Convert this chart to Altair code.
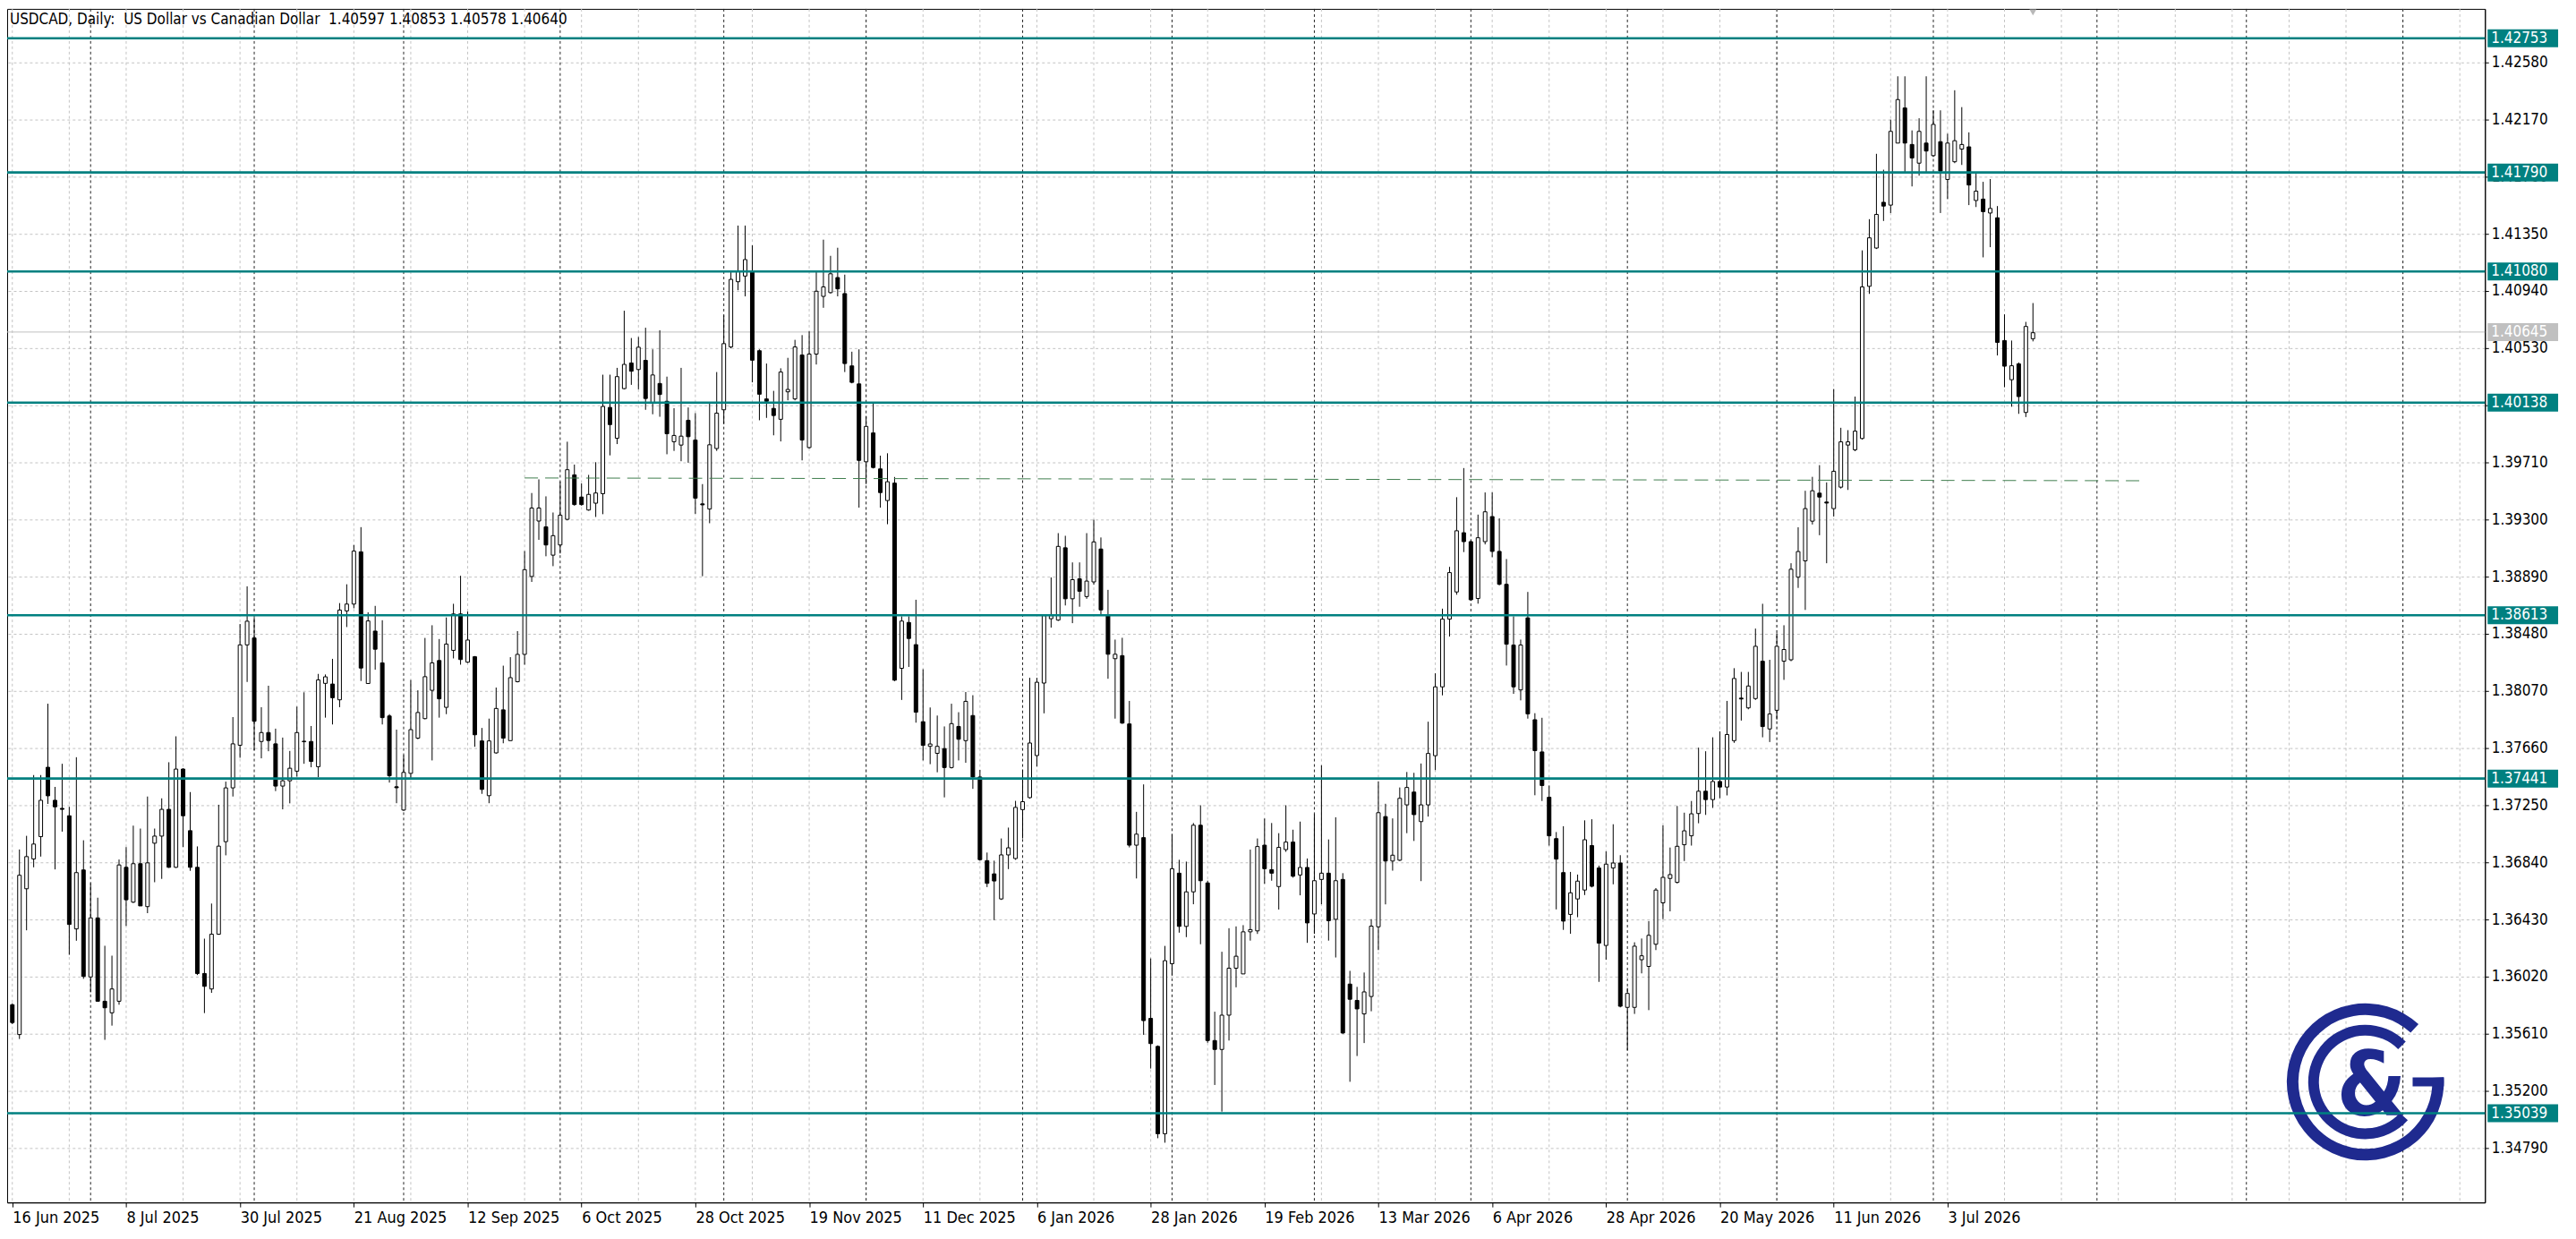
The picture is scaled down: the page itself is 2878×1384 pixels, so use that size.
import json
import altair as alt
import pandas as pd

TITLE = "USDCAD, Daily:\u00a0 US Dollar vs Canadian Dollar\u00a0 1.40597 1.40853 1.40578 1.40640"

OPEN = [
    1.35818, 1.35604, 1.36650, 1.36864, 1.37024, 1.37522, 1.37285, 1.37227, 1.37174, 1.36362,
    1.36785, 1.36017, 1.36441, 1.35843, 1.35760, 1.35843, 1.36804, 1.36554, 1.36830, 1.36522,
    1.36977, 1.37028, 1.37220, 1.36804, 1.37509, 1.37067, 1.36804, 1.36042, 1.35931, 1.36324,
    1.36988, 1.37374, 1.37680, 1.38400, 1.38450, 1.37707, 1.37771, 1.37690, 1.37387, 1.37425,
    1.37494, 1.37705, 1.37707, 1.37526, 1.38124, 1.38119, 1.38006, 1.38644, 1.38693, 1.39068,
    1.38123, 1.38499, 1.38271, 1.37890, 1.37382, 1.37215, 1.37478, 1.37731, 1.37871, 1.38074,
    1.38288, 1.37952, 1.38361, 1.38622, 1.38276, 1.38315, 1.37711, 1.37318, 1.37625, 1.37934,
    1.37713, 1.38136, 1.38332, 1.38891, 1.39289, 1.39247, 1.39044, 1.39117, 1.39301, 1.39620,
    1.39461, 1.39368, 1.39417, 1.39485, 1.40104, 1.39883, 1.40239, 1.40423, 1.40376, 1.40442,
    1.40136, 1.40276, 1.40148, 1.39858, 1.39834, 1.40012, 1.39870, 1.39412, 1.39375, 1.39809,
    1.40087, 1.40538, 1.41006, 1.41047, 1.41080, 1.40511, 1.40165, 1.40097, 1.40019, 1.40216,
    1.40165, 1.40480, 1.39816, 1.40487, 1.40901, 1.40928, 1.41036, 1.40921, 1.40402, 1.40273,
    1.39714, 1.39921, 1.39663, 1.39436, 1.39561, 1.38232, 1.38561, 1.38402, 1.37849, 1.37672,
    1.37622, 1.37656, 1.37520, 1.37815, 1.37713, 1.37893, 1.37452, 1.36852, 1.36757, 1.36577,
    1.36893, 1.36867, 1.37218, 1.37304, 1.37606, 1.38126, 1.38588, 1.38578, 1.39097, 1.38731,
    1.38874, 1.38747, 1.38852, 1.39088, 1.38610, 1.38301, 1.38323, 1.37833, 1.36963, 1.37017,
    1.35720, 1.35519, 1.34892, 1.36112, 1.36762, 1.36380, 1.36628, 1.37106, 1.36692, 1.35561,
    1.35497, 1.35743, 1.36080, 1.36039, 1.36341, 1.36348, 1.36963, 1.36787, 1.36666, 1.36931,
    1.36985, 1.36749, 1.36803, 1.36469, 1.36717, 1.36762, 1.36431, 1.36717, 1.35966, 1.35849,
    1.35752, 1.35877, 1.36377, 1.37168, 1.36849, 1.36855, 1.37252, 1.37344, 1.37132, 1.37252,
    1.37605, 1.38099, 1.38585, 1.38780, 1.39205, 1.39141, 1.38733, 1.39141, 1.39321, 1.39071,
    1.38835, 1.38399, 1.38077, 1.38594, 1.37863, 1.37632, 1.37307, 1.37010, 1.36766, 1.36466,
    1.36577, 1.36641, 1.36960, 1.36799, 1.36243, 1.36799, 1.36835, 1.35799, 1.35799, 1.36141,
    1.36093, 1.36252, 1.36549, 1.36724, 1.36696, 1.36966, 1.37030, 1.37190, 1.37350, 1.37290,
    1.37420, 1.37380, 1.37713, 1.38018, 1.37948, 1.38015, 1.38283, 1.37797, 1.37931, 1.38283,
    1.38293, 1.38886, 1.39003, 1.39288, 1.39489, 1.39425, 1.39378, 1.39532, 1.39834, 1.39800,
    1.39881, 1.40973, 1.41248, 1.41576, 1.41556, 1.42001, 1.42253, 1.41991, 1.41857, 1.42001,
    1.41911, 1.42011, 1.41740, 1.41867, 1.41958, 1.41974, 1.41589, 1.41599, 1.41499, 1.41465,
    1.40584, 1.40303, 1.40417, 1.40068, 1.40597,
]

HIGH = [
    1.35828, 1.36932, 1.37030, 1.37466, 1.37466, 1.37978, 1.37381, 1.37547, 1.37238, 1.37594,
    1.36998, 1.36689, 1.36586, 1.36241, 1.36170, 1.36860, 1.36949, 1.37103, 1.37082, 1.37312,
    1.37082, 1.37299, 1.37558, 1.37744, 1.37515, 1.37344, 1.36954, 1.36292, 1.36544, 1.37253,
    1.37419, 1.37882, 1.38550, 1.38820, 1.38600, 1.37953, 1.38107, 1.37799, 1.37735, 1.37639,
    1.37957, 1.38060, 1.37818, 1.38192, 1.38188, 1.38300, 1.38700, 1.38835, 1.39117, 1.39245,
    1.38634, 1.38680, 1.38577, 1.37903, 1.37792, 1.37608, 1.38148, 1.38074, 1.38450, 1.38541,
    1.38442, 1.38597, 1.38695, 1.38896, 1.38639, 1.38320, 1.37804, 1.37871, 1.38094, 1.38251,
    1.38312, 1.38499, 1.39073, 1.39490, 1.39588, 1.39466, 1.39350, 1.39571, 1.39858, 1.39694,
    1.39559, 1.39620, 1.39711, 1.40339, 1.40339, 1.40388, 1.40798, 1.40602, 1.40609, 1.40676,
    1.40521, 1.40658, 1.40325, 1.40099, 1.40388, 1.40104, 1.40063, 1.39554, 1.40131, 1.40358,
    1.40765, 1.41080, 1.41409, 1.41409, 1.41267, 1.40521, 1.40419, 1.40223, 1.40385, 1.40460,
    1.40589, 1.40623, 1.40650, 1.41080, 1.41308, 1.41192, 1.41250, 1.41057, 1.40504, 1.40521,
    1.40039, 1.40131, 1.39758, 1.39775, 1.39605, 1.38605, 1.38605, 1.38724, 1.38225, 1.37951,
    1.37893, 1.37815, 1.37978, 1.37917, 1.38062, 1.38039, 1.37503, 1.36910, 1.36852, 1.37011,
    1.37089, 1.37281, 1.37504, 1.38164, 1.38164, 1.38619, 1.38884, 1.39202, 1.39183, 1.38992,
    1.38992, 1.39202, 1.39298, 1.39171, 1.38795, 1.38438, 1.38451, 1.37998, 1.37202, 1.37399,
    1.36150, 1.35526, 1.36240, 1.37042, 1.36858, 1.36845, 1.37122, 1.37249, 1.36708, 1.35768,
    1.36198, 1.36367, 1.36380, 1.36389, 1.36931, 1.37011, 1.37154, 1.37122, 1.37049, 1.37249,
    1.37074, 1.37132, 1.36867, 1.37186, 1.37536, 1.37004, 1.37163, 1.36762, 1.36061, 1.35946,
    1.36049, 1.36432, 1.37419, 1.37260, 1.37155, 1.37377, 1.37488, 1.37482, 1.37549, 1.37849,
    1.38196, 1.38660, 1.38960, 1.39460, 1.39669, 1.39149, 1.39335, 1.39494, 1.39494, 1.39308,
    1.39016, 1.38605, 1.38438, 1.38780, 1.37910, 1.37877, 1.37391, 1.37057, 1.37099, 1.36771,
    1.36752, 1.37141, 1.37149, 1.36816, 1.36918, 1.37113, 1.36891, 1.35938, 1.36266, 1.36293,
    1.36418, 1.36655, 1.37105, 1.36946, 1.37244, 1.37196, 1.37280, 1.37663, 1.37637, 1.37737,
    1.37780, 1.37998, 1.38233, 1.38206, 1.38206, 1.38517, 1.38695, 1.38293, 1.38484, 1.38541,
    1.38986, 1.39244, 1.39506, 1.39606, 1.39690, 1.39566, 1.40236, 1.39958, 1.39941, 1.40182,
    1.41231, 1.41455, 1.41924, 1.41810, 1.42169, 1.42480, 1.42480, 1.42092, 1.42179, 1.42480,
    1.42236, 1.42236, 1.42068, 1.42380, 1.42259, 1.42078, 1.41790, 1.41723, 1.41743, 1.41549,
    1.40772, 1.40584, 1.40427, 1.40718, 1.40853,
]

LOW = [
    1.35679, 1.35572, 1.36352, 1.36804, 1.36881, 1.37259, 1.36789, 1.37060, 1.36176, 1.36277,
    1.36004, 1.35907, 1.35839, 1.35566, 1.35668, 1.35818, 1.36384, 1.36548, 1.36527, 1.36475,
    1.36697, 1.36721, 1.36800, 1.36800, 1.36949, 1.36779, 1.36031, 1.35758, 1.35903, 1.36320,
    1.36890, 1.37312, 1.37590, 1.38134, 1.37643, 1.37586, 1.37637, 1.37351, 1.37220, 1.37263,
    1.37455, 1.37547, 1.37522, 1.37451, 1.37878, 1.37829, 1.37953, 1.38528, 1.38663, 1.38141,
    1.38123, 1.38222, 1.37829, 1.37412, 1.37264, 1.37208, 1.37436, 1.37723, 1.37866, 1.37571,
    1.37878, 1.37903, 1.38303, 1.38258, 1.38271, 1.37669, 1.37331, 1.37264, 1.37620, 1.37694,
    1.37713, 1.38131, 1.38258, 1.38852, 1.39154, 1.39036, 1.38965, 1.39056, 1.39294, 1.39399,
    1.39399, 1.39363, 1.39318, 1.39338, 1.39760, 1.39841, 1.40234, 1.40266, 1.40234, 1.40087,
    1.40055, 1.40037, 1.39768, 1.39792, 1.39718, 1.39707, 1.39341, 1.38893, 1.39273, 1.39792,
    1.39985, 1.40528, 1.40945, 1.40901, 1.40284, 1.40012, 1.40029, 1.39904, 1.39860, 1.40155,
    1.40155, 1.39724, 1.39809, 1.40412, 1.40819, 1.40921, 1.40901, 1.40358, 1.40277, 1.39385,
    1.39554, 1.39666, 1.39385, 1.39266, 1.38140, 1.38005, 1.38242, 1.37842, 1.37571, 1.37544,
    1.37486, 1.37306, 1.37513, 1.37571, 1.37554, 1.37367, 1.36852, 1.36662, 1.36425, 1.36570,
    1.36791, 1.36858, 1.37011, 1.37297, 1.37527, 1.37909, 1.38524, 1.38572, 1.38683, 1.38556,
    1.38674, 1.38731, 1.38833, 1.38619, 1.38157, 1.37871, 1.37833, 1.36947, 1.36724, 1.35602,
    1.35360, 1.34860, 1.34828, 1.36029, 1.36335, 1.36303, 1.36539, 1.36252, 1.35545, 1.35242,
    1.35051, 1.35561, 1.35943, 1.36039, 1.36278, 1.36326, 1.36686, 1.36708, 1.36501, 1.36915,
    1.36730, 1.36603, 1.36262, 1.36326, 1.36539, 1.36278, 1.36157, 1.35609, 1.35265, 1.35450,
    1.35543, 1.35771, 1.36210, 1.36538, 1.36780, 1.36849, 1.37049, 1.36993, 1.36705, 1.37168,
    1.37502, 1.38038, 1.38460, 1.38760, 1.39066, 1.38716, 1.38696, 1.39121, 1.39030, 1.38827,
    1.38252, 1.38049, 1.38002, 1.37871, 1.37321, 1.37280, 1.36960, 1.36502, 1.36355, 1.36327,
    1.36446, 1.36605, 1.36660, 1.35982, 1.36141, 1.36682, 1.35799, 1.35490, 1.35752, 1.36043,
    1.35779, 1.36210, 1.36432, 1.36488, 1.36688, 1.36849, 1.36960, 1.37120, 1.37180, 1.37230,
    1.37300, 1.37320, 1.37697, 1.37857, 1.37938, 1.38005, 1.37737, 1.37703, 1.37864, 1.38149,
    1.38283, 1.38809, 1.38651, 1.39264, 1.39187, 1.38986, 1.39321, 1.39522, 1.39512, 1.39790,
    1.39874, 1.40919, 1.41241, 1.41442, 1.41499, 1.42001, 1.41784, 1.41690, 1.41767, 1.41790,
    1.41901, 1.41499, 1.41599, 1.41857, 1.41844, 1.41556, 1.41542, 1.41181, 1.41254, 1.40477,
    1.40249, 1.40109, 1.40058, 1.40035, 1.40578,
]

CLOSE = [
    1.35690, 1.36747, 1.36881, 1.36971, 1.37285, 1.37317, 1.37238, 1.37220, 1.36394, 1.36766,
    1.36021, 1.36441, 1.35843, 1.35796, 1.35931, 1.36821, 1.36571, 1.36830, 1.36527, 1.36836,
    1.37028, 1.37220, 1.36804, 1.37509, 1.37174, 1.36804, 1.36042, 1.35950, 1.36324, 1.36956,
    1.37374, 1.37690, 1.38400, 1.38570, 1.37852, 1.37771, 1.37714, 1.37387, 1.37425, 1.37515,
    1.37771, 1.37709, 1.37564, 1.38149, 1.38171, 1.38021, 1.38650, 1.38693, 1.39073, 1.38234,
    1.38572, 1.38369, 1.37878, 1.37461, 1.37375, 1.37485, 1.37792, 1.37915, 1.38172, 1.38271,
    1.38013, 1.38406, 1.38622, 1.38295, 1.38435, 1.37755, 1.37363, 1.37711, 1.37944, 1.37731,
    1.38165, 1.38332, 1.38940, 1.39382, 1.39382, 1.39117, 1.39184, 1.39331, 1.39657, 1.39407,
    1.39407, 1.39480, 1.39490, 1.40111, 1.39981, 1.40325, 1.40413, 1.40364, 1.40536, 1.40168,
    1.40337, 1.40197, 1.39915, 1.39903, 1.39898, 1.39894, 1.39453, 1.39405, 1.39836, 1.40063,
    1.40562, 1.41023, 1.41080, 1.41165, 1.40443, 1.40199, 1.40148, 1.40046, 1.40358, 1.40233,
    1.40538, 1.39870, 1.40487, 1.40938, 1.40969, 1.41063, 1.40955, 1.40419, 1.40284, 1.39724,
    1.39968, 1.39673, 1.39493, 1.39571, 1.38147, 1.38571, 1.38446, 1.37917, 1.37679, 1.37689,
    1.37672, 1.37520, 1.37835, 1.37723, 1.37995, 1.37452, 1.36859, 1.36689, 1.36706, 1.36893,
    1.36944, 1.37234, 1.37275, 1.37696, 1.38132, 1.38610, 1.38610, 1.39107, 1.38731, 1.38868,
    1.38785, 1.38858, 1.39139, 1.38651, 1.38333, 1.38333, 1.37839, 1.36963, 1.37042, 1.35704,
    1.35539, 1.34892, 1.36134, 1.36794, 1.36380, 1.36628, 1.37106, 1.36708, 1.35561, 1.35497,
    1.35743, 1.36080, 1.36166, 1.36341, 1.36357, 1.36953, 1.36794, 1.36762, 1.36947, 1.36985,
    1.36740, 1.36803, 1.36405, 1.36708, 1.36762, 1.36421, 1.36708, 1.35615, 1.35857, 1.35788,
    1.35910, 1.36382, 1.37196, 1.36849, 1.36891, 1.37299, 1.37377, 1.37182, 1.37252, 1.37621,
    1.38099, 1.38585, 1.38919, 1.39219, 1.39141, 1.38724, 1.39169, 1.39355, 1.39071, 1.38835,
    1.38405, 1.38099, 1.38399, 1.37905, 1.37641, 1.37391, 1.37030, 1.36863, 1.36418, 1.36621,
    1.36705, 1.37002, 1.36668, 1.36260, 1.36827, 1.36835, 1.35807, 1.35899, 1.36238, 1.36169,
    1.36316, 1.36641, 1.36732, 1.36752, 1.36955, 1.37066, 1.37188, 1.37350, 1.37290, 1.37420,
    1.37380, 1.37757, 1.38159, 1.38012, 1.38105, 1.38390, 1.37814, 1.37904, 1.38390, 1.38367,
    1.38943, 1.39070, 1.39378, 1.39506, 1.39461, 1.39418, 1.39646, 1.39857, 1.39857, 1.39934,
    1.40969, 1.41321, 1.41489, 1.41549, 1.42085, 1.42313, 1.42001, 1.41894, 1.42085, 1.41944,
    1.42135, 1.41800, 1.42001, 1.42018, 1.41991, 1.41700, 1.41656, 1.41509, 1.41532, 1.40571,
    1.40400, 1.40403, 1.40182, 1.40685, 1.40640,
]

FIRST_BAR = "2025-06-16"
MARKET_HOLIDAYS = ["2025-12-25", "2026-01-01"]

DATE_LABELS = ["16 Jun 2025", "8 Jul 2025", "30 Jul 2025", "21 Aug 2025", "12 Sep 2025",
               "6 Oct 2025", "28 Oct 2025", "19 Nov 2025", "11 Dec 2025", "6 Jan 2026",
               "28 Jan 2026", "19 Feb 2026", "13 Mar 2026", "6 Apr 2026", "28 Apr 2026",
               "20 May 2026", "11 Jun 2026", "3 Jul 2026"]
LABEL_EVERY = 16
GRID_EVERY = 8

PRICE_TICKS = [1.34790, 1.35200, 1.35610, 1.36020, 1.36430, 1.36840, 1.37250, 1.37660,
               1.38070, 1.38480, 1.38890, 1.39300, 1.39710, 1.40120, 1.40530, 1.40940,
               1.41350, 1.41760, 1.42170, 1.42580]
LEVELS = [1.42753, 1.41790, 1.41080, 1.40138, 1.38613, 1.37441, 1.35039]
CURRENT_PRICE = 1.40645
TREND_IDX = [72, 299]
TREND_PRICE = [1.39598, 1.39578]

# ---------------------------------------------------------------- styling
FONT = "DejaVu Sans Condensed, Liberation Sans Narrow, DejaVu Sans"
TEAL = "#008080"
NAVY = "#1f2a8f"
GRID = "#c3c3c3"
W, H = 2776, 1337
X_DOMAIN = [-0.1, 346.9]
Y_DOMAIN = [1.34399, 1.42964]

xs = alt.Scale(domain=X_DOMAIN, nice=False, zero=False)
ys = alt.Scale(domain=Y_DOMAIN, nice=False, zero=False)

n = len(CLOSE)
bars = pd.DataFrame({"idx": list(range(n)), "o": OPEN, "h": HIGH, "l": LOW, "c": CLOSE})
bars["fill"] = ["white" if c >= o else "black" for o, c in zip(OPEN, CLOSE)]

days = pd.bdate_range(FIRST_BAR, periods=420)
days = days[~days.isin(pd.to_datetime(MARKET_HOLIDAYS))]
sep_idx = [i for i in range(1, len(days))
           if days[i].month != days[i - 1].month and i < X_DOMAIN[1]]
grid_idx = list(range(0, int(X_DOMAIN[1]) + 1, GRID_EVERY))

label_expr = f"{json.dumps(DATE_LABELS)}[round(datum.value / {LABEL_EVERY})]"
x_axis = alt.Axis(values=list(range(0, LABEL_EVERY * len(DATE_LABELS), LABEL_EVERY)),
                  labelExpr=label_expr, labelAlign="left", labelBaseline="top",
                  labelFont=FONT, labelFontSize=18, labelColor="black", labelPadding=3,
                  labelFlush=False, labelOverlap=False, tickSize=5, tickColor="black",
                  domainColor="black", grid=False, title=None)
y_axis = alt.Axis(orient="right", values=PRICE_TICKS, format=".5f", labelFont=FONT,
                  labelFontSize=17, labelColor="black", labelPadding=3, tickSize=4,
                  tickColor="black", domainColor="black", grid=True, gridColor=GRID,
                  gridDash=[3, 3], gridWidth=1, labelFlush=False, labelOverlap=False,
                  title=None)


def X(field):
    return alt.X(field, scale=xs, axis=x_axis, title=None)


def Y(field):
    return alt.Y(field, scale=ys, axis=y_axis, title=None)


grid_v = alt.Chart(pd.DataFrame({"idx": grid_idx})).mark_rule(
    color=GRID, strokeDash=[3, 3], strokeWidth=1
).encode(x=X("idx:Q"))

seps = alt.Chart(pd.DataFrame({"idx": sep_idx})).mark_rule(
    color="#222222", strokeDash=[3, 3], strokeWidth=1
).encode(x=X("idx:Q"))

logo_df = pd.DataFrame({"k": [0]})
LOGO_X, LOGO_Y = 2642, 1202
outer = alt.Chart(logo_df).mark_arc(
    radius=88, radius2=75, theta=1.5097, theta2=7.0267, color=NAVY
).encode(x=alt.value(LOGO_X), y=alt.value(LOGO_Y))
inner = alt.Chart(logo_df).mark_arc(
    radius=64, radius2=52, theta=2.3038, theta2=7.0686, color=NAVY
).encode(x=alt.value(LOGO_X), y=alt.value(LOGO_Y))
gbar = alt.Chart(logo_df).mark_rect(color=NAVY).encode(
    x=alt.value(LOGO_X + 53), x2=alt.value(LOGO_X + 88),
    y=alt.value(LOGO_Y - 5), y2=alt.value(LOGO_Y + 5))
amp = alt.Chart(logo_df).mark_text(
    text="&", font="DejaVu Sans Condensed, DejaVu Sans", fontWeight="bold", fontSize=100,
    color=NAVY, align="center", baseline="alphabetic"
).encode(x=alt.value(LOGO_X + 7), y=alt.value(LOGO_Y + 38))

cur_line = alt.Chart(pd.DataFrame({"price": [CURRENT_PRICE]})).mark_rule(
    color="#c0c0c0", strokeWidth=1
).encode(y=Y("price:Q"))

wick = alt.Chart(bars).mark_rule(color="black", strokeWidth=1).encode(
    x=X("idx:Q"), y=Y("l:Q"), y2="h:Q",
)
body = alt.Chart(bars).mark_bar(size=4, stroke="black", strokeWidth=1).encode(
    x=X("idx:Q"), y=Y("o:Q"), y2="c:Q",
    fill=alt.Fill("fill:N", scale=None),
)

levels = alt.Chart(pd.DataFrame({"price": LEVELS})).mark_rule(
    color=TEAL, strokeWidth=2.6
).encode(y=Y("price:Q"))

trend = alt.Chart(pd.DataFrame({"idx": TREND_IDX, "price": TREND_PRICE})).mark_line(
    color="#3f7d4d", strokeDash=[15, 8], strokeWidth=1
).encode(x=X("idx:Q"), y=Y("price:Q"))

box_df = pd.DataFrame({"price": LEVELS + [CURRENT_PRICE],
                       "bg": [TEAL] * len(LEVELS) + ["#c0c0c0"]})
boxes = alt.Chart(box_df).mark_rule(strokeWidth=20, strokeCap="butt").encode(
    x=alt.value(W + 3), x2=alt.value(W + 82),
    y=Y("price:Q"),
    color=alt.Color("bg:N", scale=None),
)
box_text = alt.Chart(box_df).mark_text(
    align="left", baseline="middle", color="white", font=FONT, fontSize=17
).encode(x=alt.value(W + 7), y=Y("price:Q"),
         text=alt.Text("price:Q", format=".5f"))

title = alt.Chart(pd.DataFrame({"t": [TITLE]})).mark_text(
    align="left", baseline="middle", font=FONT, fontSize=17, color="black"
).encode(x=alt.value(3), y=alt.value(12), text="t:N")

shift_mark = alt.Chart(pd.DataFrame({"idx": [n - 1]})).mark_point(
    shape="triangle-down", filled=True, color="#b8b8b8", size=60, opacity=1
).encode(x=X("idx:Q"), y=alt.value(4))

chart = alt.layer(
    grid_v, seps, outer, inner, gbar, amp, cur_line, wick, body, levels, trend,
    boxes, box_text, title, shift_mark,
).properties(
    width=W, height=H,
    autosize=alt.AutoSizeParams(type="none"),
    padding={"left": 0, "top": 0, "right": 94, "bottom": 39},
    background="white",
).configure_view(stroke="black", strokeWidth=1)

chart.save("out.html", embed_options={"renderer": "svg", "actions": False})
